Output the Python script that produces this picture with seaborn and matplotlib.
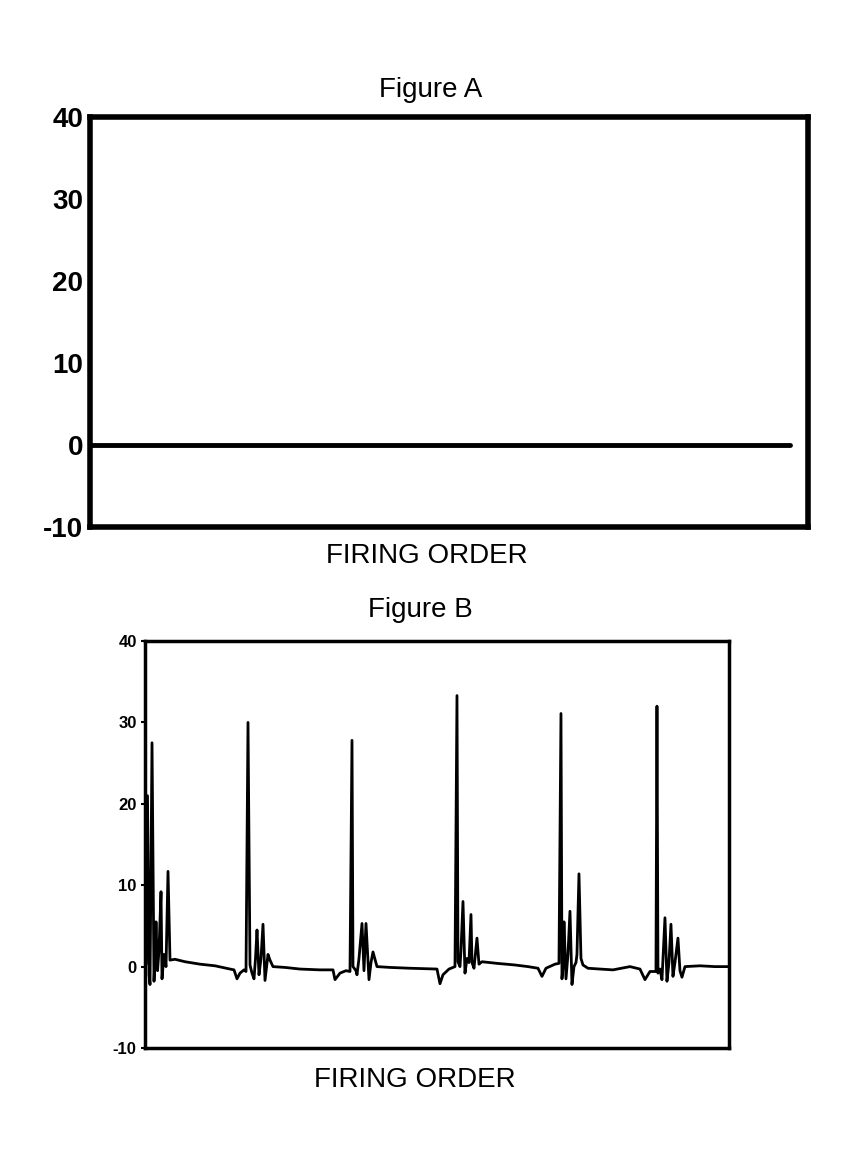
import matplotlib
matplotlib.use("Agg")
import matplotlib.pyplot as plt
import seaborn as sns
import pandas as pd

# Figure A: flat trace at zero
a_order = [0, 97.5]
a_value = [0, 0]

# Figure B: firing-order trace with spike groups
b_order = [1, 2.5, 4, 5, 7, 9, 10, 11, 12.5, 14, 16, 17, 19, 21, 23, 25, 30, 40, 55, 70,
           85, 89, 92, 95, 99, 101, 103, 105, 107, 109, 110.5, 112, 114, 116, 118, 120, 123, 125, 128, 140,
           155, 175, 188, 190, 195, 201, 205, 207, 208, 211, 212, 214, 217, 219, 221, 224, 226, 228, 232, 245,
           265, 292, 295, 298, 304, 310, 312, 313, 315, 316, 318, 320, 322, 324, 326, 327, 329, 332, 334, 337,
           352, 370, 383, 393, 397, 401, 410, 414, 416, 417, 418, 419, 421, 423, 425, 427, 429, 431, 432, 434,
           436, 438, 443, 455, 468, 485, 495, 500, 505, 511, 512, 513, 515, 517, 520, 522, 524, 526, 528, 530,
           533, 535, 537, 540, 555, 570, 583]
b_value = [0.3, 21, -1.0, -2.2, 27.5, -1.8, 1, 5.5, -0.5, 2, 9.2, -1.5, 1.5, 0, 11.7, 0.8, 0.9, 0.6, 0.3, 0.1,
           -0.3, -0.4, -1.5, -0.8, -0.4, -0.6, 30.0, 0.2, -0.8, -1.5, 1, 4.5, -1, 1, 5.2, -1.7, 1.5, 0.8, 0, -0.1,
           -0.3, -0.4, -0.4, -1.6, -0.8, -0.5, -0.6, 27.8, 0, -0.5, -1.0, 1, 5.3, -0.5, 5.3, -1.6, 0.5, 1.8, 0, -0.1,
           -0.2, -0.3, -2.1, -1.0, -0.3, 0, 33.3, 0.6, 0, 2, 8.0, -0.8, 1, 0.5, 6.4, 0.5, -0.2, 3.5, 0.3, 0.6,
           0.4, 0.2, 0, -0.2, -1.2, -0.2, 0.3, 0.4, 31.1, -1.5, 0, 5.5, -1.5, 1.5, 6.8, -2.2, 0, 0.5, 1.5, 11.4,
           1.0, 0.2, -0.2, -0.3, -0.4, 0, -0.3, -1.6, -0.6, -0.6, 32.0, -0.8, -0.3, -1.6, 6.0, -1.8, 0.5, 5.2, -1.2, 0.5,
           3.5, -0.5, -1.3, 0, 0.1, 0, 0]

y_ticks = [-10, 0, 10, 20, 30, 40]

sns.set_theme(style="white")
plt.rcParams["font.family"] = ["Liberation Sans", "DejaVu Sans"]
plt.rcParams["text.color"] = "black"
plt.rcParams["ytick.color"] = "black"
plt.rcParams["xtick.color"] = "black"
plt.rcParams["axes.labelcolor"] = "black"

fig = plt.figure(figsize=(8.5, 11.66), dpi=100)

# Figure A
ax_a = fig.add_axes([0.106, 0.548, 0.845, 0.352])
df_a = pd.DataFrame({"order": a_order, "value": a_value})
sns.lineplot(data=df_a, x="order", y="value", ax=ax_a, color="black", linewidth=3.5)
ax_a.set_xlim(0, 100)
ax_a.set_ylim(-10, 40)
ax_a.set_xticks([])
ax_a.set_yticks(y_ticks)
ax_a.set_yticklabels([str(t) for t in y_ticks], fontsize=20, fontweight="bold")
ax_a.tick_params(axis="y", length=0, pad=5)
ax_a.set_xlabel("")
ax_a.set_ylabel("")
for s in ax_a.spines.values():
    s.set_linewidth(4)
    s.set_color("black")

# Figure B
ax_b = fig.add_axes([0.1706, 0.1012, 0.687, 0.349])
df_b = pd.DataFrame({"order": b_order, "value": b_value})
sns.lineplot(data=df_b, x="order", y="value", ax=ax_b, color="black", linewidth=2,
             estimator=None, sort=False)
ax_b.set_xlim(0, 584)
ax_b.set_ylim(-10, 40)
ax_b.set_xticks([])
ax_b.set_yticks(y_ticks)
ax_b.set_yticklabels([str(t) for t in y_ticks], fontsize=12, fontweight="bold")
ax_b.tick_params(axis="y", left=True, length=3, width=1.5, pad=3, color="black")
ax_b.set_xlabel("")
ax_b.set_ylabel("")
for s in ax_b.spines.values():
    s.set_linewidth(2.5)
    s.set_color("black")

fig.text(0.507, 0.923, "Figure A", ha="center", va="center", fontsize=20, color="black")
fig.text(0.502, 0.523, "FIRING ORDER", ha="center", va="center", fontsize=20, color="black")
fig.text(0.495, 0.477, "Figure B", ha="center", va="center", fontsize=20, color="black")
fig.text(0.488, 0.074, "FIRING ORDER", ha="center", va="center", fontsize=20, color="black")

fig.savefig("out.png", dpi=100)
